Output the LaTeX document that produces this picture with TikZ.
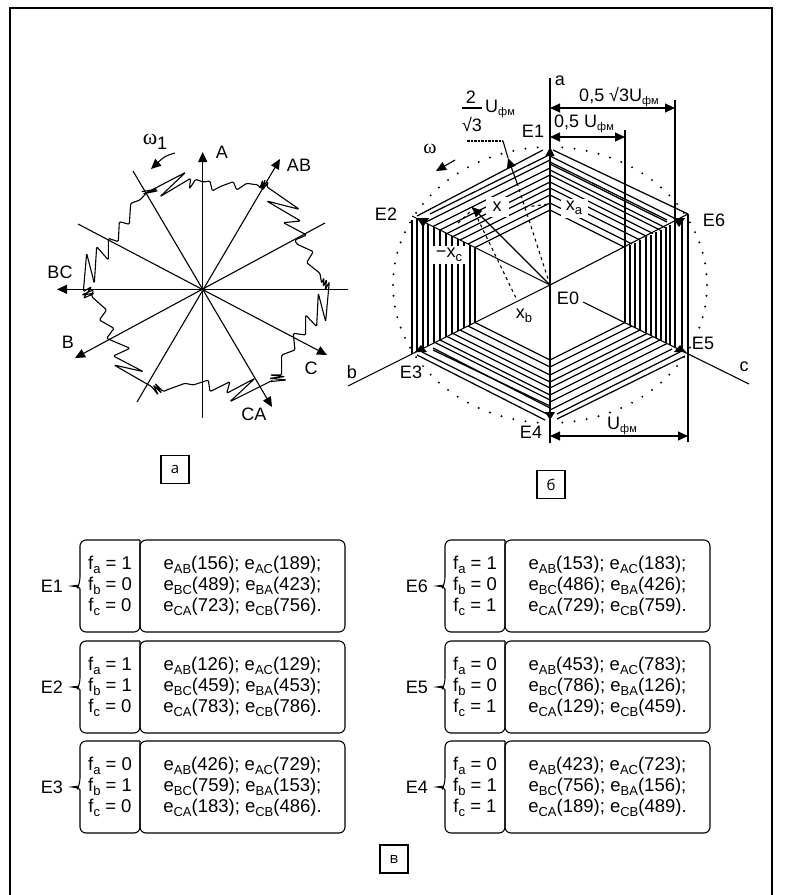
\documentclass[tikz,border=0pt]{standalone}
\usepackage{fontspec}
\usetikzlibrary{arrows.meta}
\setmainfont{Liberation Sans}
\newfontfamily\serfont{Liberation Serif}
\newfontfamily\capfont{Open Sans}
\newcommand\sbx[1]{\raisebox{-0.22em}{\fontsize{13}{13}\selectfont #1}}
\newcommand\sbf[1]{\raisebox{-0.2em}{\fontsize{11}{11}\selectfont #1}}
\newcommand\erow[5]{e\sbx{#1}(#2); e\sbx{#3}(#4)#5}
\def\ecodes#1/#2/#3/#4/#5/#6\relax{\erow{AB}{#1}{AC}{#2}{;}\\\erow{BC}{#3}{BA}{#4}{;}\\\erow{CA}{#5}{CB}{#6}{.}}
\tikzset{
  x=1pt,y=-1pt,
  ln/.style={line width=1.1pt,black},
  hatch/.style={line width=1.05pt,black},
  shatch/.style={line width=1.25pt,black},
  arr/.style={line width=1.1pt,-{Triangle[length=10pt,width=9pt]}},
  darr/.style={line width=1.1pt,{Triangle[length=10pt,width=9pt]}-{Triangle[length=10pt,width=9pt]}},
  lbl/.style={font=\fontsize{18}{18}\selectfont,inner sep=0pt},
  wlbl/.style={lbl,fill=white,inner sep=2pt},
  tbl/.style={font=\fontsize{18.5}{21}\selectfont,align=center,inner sep=0pt},
  capbox/.style={draw,line width=1.1pt,minimum width=28pt,minimum height=28pt,inner sep=0pt,font=\capfont\fontsize{15}{15}\selectfont},
  ebx/.style={draw,line width=1.1pt,rounded corners=6pt,inner sep=0pt},
  dashln/.style={line width=1.1pt,dash pattern=on 3pt off 3.5pt},
}
% #1 left x, #2 center y, #3 label, #4 #5 #6 flags, #7 codes, #8 right x
\newcommand\Ebox[8]{%
  \draw[line width=1.1pt,rounded corners=6pt] (#1+60,#2-46) -- (#1,#2-46) -- (#1,#2-3)
     [sharp corners] .. controls (#1-1,#2-1) .. (#1-8,#2) .. controls (#1-1,#2+1) .. (#1,#2+3)
     [rounded corners=6pt] -- (#1,#2+46) -- (#1+60,#2+46) -- (#1+60,#2-46);
  \node[tbl] (f#3) at (#1+30,#2) {f\sbx{a} = #4\\f\sbx{b} = #5\\f\sbx{c} = #6};
  \node[ebx,minimum width=#8 pt-#1 pt-60pt,minimum height=92pt] (b#3) at ({(#1+60+#8)/2},#2) {};
  \node[tbl] (c#3) at (b#3.center) {\ecodes #7\relax};
  \node[lbl,anchor=east] (l#3) at (#1-17,#2) {#3};
}
\begin{document}
\begin{tikzpicture}
\useasboundingbox (0,0) rectangle (785,895);
\fill[white] (0,0) rectangle (785,895);
\draw[line width=1.1pt] (10,895) -- (10,8) -- (772,8) -- (772,895);

% ---------- left diagram
\coordinate (O) at (202.7,289.3);
\coordinate (tA) at (202.7,152);
\coordinate (tAb) at (202.7,418);
\coordinate (tBC) at (57,289.3);
\coordinate (tR) at (348,289.3);
\coordinate (tAB) at (280,159);
\coordinate (tB) at (75,358);
\coordinate (tC) at (327,355);
\coordinate (tCA) at (272,407);
\coordinate (l1) at (133,171);
\coordinate (l2) at (78,224);
\coordinate (l3) at (325,223);
\coordinate (l4) at (137,402);
\draw[arr] (tAb) -- (tA);
\draw[arr] (tR) -- (tBC);
\draw[arr] (l4) -- (tAB);
\draw[arr] (l3) -- (tB);
\draw[arr] (l2) -- (tC);
\draw[arr] (l1) -- (tCA);
\begin{scope}[shift={(40,120)},x=0.3333pt,y=-0.3333pt]
\draw[line width=1.1pt,rounded corners=1.2pt,line join=round]
 (305,215)--(352,207)--(308,222)--(355,212)--(320,218)--(437,157)--(360,230)--(452,175)--(448,207)
 --(467,178)--(490,186)--(510,183)--(517,213)--(540,200)--(580,185)--(590,210)--(620,190)--(655,195)
 --(660,205)--(668,180)--(663,208)--(676,178)--(668,210)--(685,185)--(680,200)
 --(778,268)--(680,243)--(782,303)--(730,308)--(800,345)--(765,360)--(770,372)--(820,395)--(800,428)--(840,460)
 --(845,490)--(852,473)--(850,500)--(860,478)--(856,510)--(868,485)--(857,605)--(835,520)--(830,620)--(797,585)
 --(797,645)--(760,640)--(765,690)--(725,705)--(725,765)--(690,765)--(735,770)--(688,775)--(740,780)--(690,785)
 --(700,780)--(570,845)--(645,775)--(560,820)--(570,785)--(510,815)--(505,780)--(460,795)--(435,790)--(380,810)
 --(370,815)--(345,790)--(365,820)--(340,795)--(355,825)--(335,800)
 --(222,735)--(310,755)--(220,708)--(270,685)--(200,655)--(222,625)--(178,600)--(200,570)--(155,530)
 --(160,510)--(125,525)--(163,520)--(130,535)--(155,500)--(130,515)
 --(140,400)--(163,490)--(170,380)--(205,420)--(205,355)--(235,365)--(238,305)--(268,313)--(272,250)--(300,240)--(320,218);
\end{scope}
\node[lbl] (nw1) at (155,142) {{\serfont\fontsize{22}{22}\selectfont ω}\raisebox{-0.3em}{1}};
\coordinate (w1s) at (175,153);
\coordinate (w1e) at (151,169);
\draw[arr] (w1s) .. controls (165,156) .. (w1e);
\node[lbl] (nA) at (222,152) {A};
\node[lbl] (nAB) at (299,165) {AB};
\node[lbl] (nBC) at (60,272) {BC};
\node[lbl] (nB) at (68,342) {B};
\node[lbl] (nC) at (311,368) {C};
\node[lbl] (nCA) at (254,414) {CA};
\node[capbox] (capa) at (175,469.5) {а};

% ---------- right diagram
\coordinate (E0) at (550,285);
\foreach \a in {4.5,9,...,355.5}{
  \fill ({550+157*sin(\a)},{285-138*cos(\a)}) circle (1.1pt);
}
% top-right sector
\foreach \y in {156,170,175,182,188,195,203,210}{
  \draw[shatch] (550,\y) -- ({550+285-\y},{\y+(285-\y)/2});
}
\draw[shatch] (550,162) -- (667,220);
\draw[shatch] (550,164) -- (667,222);
\draw[shatch] (553,150) -- (688,214);
% top-left sector
\foreach \y in {160,168,175,182,188,195,203,210}{
  \draw[shatch] (550,\y) -- ({550-285+\y},{\y+(285-\y)/2});
}
\draw[shatch] (547,156) -- (430,214);
\draw[shatch] (543,150) -- (417,216);
% bottom-left sector
\foreach \y in {360,367,375,382,388,395,400}{
  \draw[shatch] (550,\y) -- ({550-\y+285},{\y-(\y-285)/2});
}
\draw[shatch] (550,406) -- (433,350);
\draw[shatch] (550,408) -- (433,348);
\draw[shatch] (547,414) -- (422,352);
\draw[shatch] (545,420) -- (417,355);
% bottom-right sector
\foreach \y in {360,367,375,382,388,395,402}{
  \draw[shatch] (550,\y) -- ({550+\y-285},{\y-(\y-285)/2});
}
\draw[shatch] (550,410) -- (672,349);
\draw[shatch] (557,414) -- (680,352);
\draw[shatch] (557,419) -- (685,356);
% verticals
\foreach \x in {630,635,640,646,651,656,661,666,670,682}{
  \draw[hatch] (\x,{285-(\x-550)/2}) -- (\x,{285+(\x-550)/2});
}
\foreach \x in {417,423,428,434,440,446,452,458,464,470,475}{
  \draw[hatch] (\x,{285-(550-\x)/2}) -- (\x,{285+(550-\x)/2});
}
\draw[hatch] (412,220) -- (412,354);
% extended verticals (dimension lines)
\draw[ln] (625,130) -- (625,323);
\draw[ln] (675,100) -- (675,347);
\draw[ln] (688,214) -- (688,442);
% axes and radial lines
\coordinate (aT) at (550,78);
\coordinate (aB) at (550,443);
\draw[ln] (aT) -- (aB);
\coordinate (bEnd) at (348,386);
\coordinate (cEnd) at (749,384);
\coordinate (cStart) at (583,302);
\coordinate (rE2) at (412,216);
\coordinate (rE6) at (688,214);
\draw[ln] (bEnd) -- (E0);
\draw[ln] (cStart) -- (cEnd);
\draw[ln] (rE2) -- (E0) -- (rE6);
% arrowheads at vertices
\fill (550,147) -- (554.5,156) -- (545.5,156) -- cycle;
\fill (679,227) -- (673,218) -- (685,218) -- cycle;
\fill (423,227) -- (417,218) -- (429,218) -- cycle;
\fill (421,345) -- (415,352) -- (427,352) -- cycle;
\fill (680,345) -- (674,352) -- (686,352) -- cycle;
\fill (550,420) -- (545,412) -- (555,412) -- cycle;
% dashed lines
\coordinate (xT) at (472,207);
\coordinate (dq) at (517,183);
\draw[dashln] (dq) -- (E0);
\draw[dashln] (xT) -- (516,298);
\draw[dashln] (458,223) -- (470,212);
\draw[dashln] (525,207) -- (550,204);
% labels with white backgrounds
\node[wlbl,minimum width=23pt,minimum height=20pt] (nx) at (497,207) {x};
\node[wlbl,minimum width=27pt,minimum height=19pt] (nxa) at (574,208) {x\sbx{a}};
\node[wlbl,minimum width=32pt,minimum height=18pt] (nxc) at (449,255) {−x\sbx{c}};
% vector x and leader
\draw[arr] (E0) -- (xT);
\coordinate (h1) at (467,141);
\coordinate (h2) at (503,141);
\draw[line width=1.1pt,dash pattern=on 2.5pt off 1pt] (h1) -- (h2);
\draw[ln] (h2) -- (508,158);
\draw[arr] (dq) -- (508,158);
% dimensions
\coordinate (d1a) at (550,108);
\coordinate (d1b) at (675,108);
\coordinate (d2a) at (550,137);
\coordinate (d2b) at (625,137);
\coordinate (d3a) at (550,436);
\coordinate (d3b) at (688,436);
\draw[darr] (d1a) -- (d1b);
\draw[darr] (d2a) -- (d2b);
\draw[darr] (d3a) -- (d3b);
\node[lbl] (la) at (560,81) {a};
\node[lbl] (ld1) at (619,97) {0,5 √3U\sbf{фм}};
\node[lbl] (ld2) at (584,124) {0,5 U\sbf{фм}};
\node[lbl] (f2) at (471,97) {2};
\draw[ln] (462,108) -- (482,108);
\node[lbl] (f3) at (472,124) {√3};
\node[lbl] (fu) at (500,109) {U\sbf{фм}};
\node[lbl] (lE1) at (533,131) {E1};
\node[lbl] (lw) at (430,149) {\serfont\fontsize{20}{20}\selectfont ω};
\coordinate (ws) at (455,160);
\coordinate (we) at (436,171);
\draw[arr] (ws) -- (we);
\node[lbl] (lE2) at (386,214) {E2};
\node[lbl] (lE6) at (714,220) {E6};
\node[lbl] (lE5) at (703,343) {E5};
\node[lbl] (lE3) at (411,372) {E3};
\node[lbl] (lE4) at (531,432) {E4};
\node[lbl] (lE0) at (568,298) {E0};
\node[lbl] (lb) at (352,372) {b};
\node[lbl] (lc) at (744,367) {c};
\node[lbl] (lxb) at (524,316) {x\sbx{b}};
\node[lbl] (lU) at (622,426) {U\sbf{фм}};
\node[capbox] (capb) at (551,484.5) {б};

% ---------- tables
\Ebox{80}{586}{E1}{1}{0}{0}{156/189/489/423/723/756}{345}
\Ebox{80}{687}{E2}{1}{1}{0}{126/129/459/453/783/786}{345}
\Ebox{80}{787}{E3}{0}{1}{0}{426/729/759/153/183/486}{345}
\Ebox{445}{586}{E6}{1}{0}{1}{153/183/486/426/729/759}{710}
\Ebox{445}{687}{E5}{0}{0}{1}{453/783/786/126/129/459}{710}
\Ebox{445}{787}{E4}{0}{1}{1}{423/723/756/156/189/489}{710}
\node[capbox] (capc) at (394,859) {в};
\end{tikzpicture}
\end{document}
